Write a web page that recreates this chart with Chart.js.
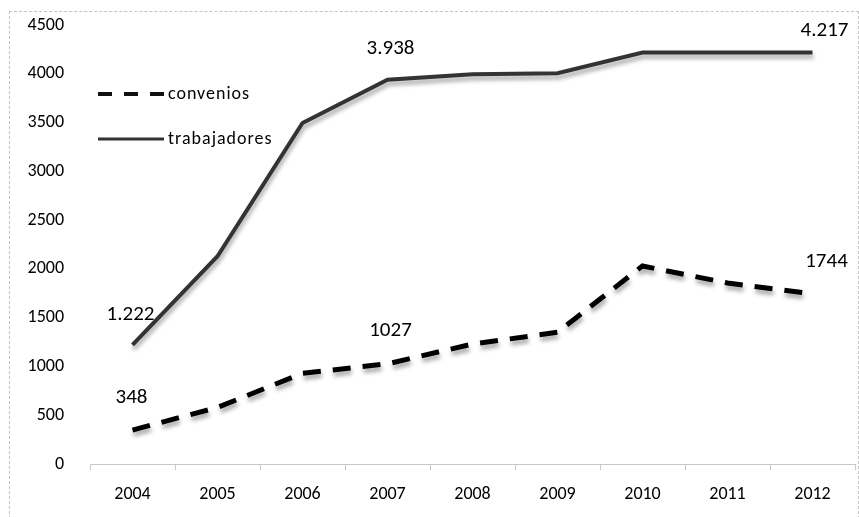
<!DOCTYPE html>
<html>
<head>
<meta charset="utf-8">
<script src="https://cdn.jsdelivr.net/npm/chart.js@4"></script>
<style>
  html, body { margin: 0; padding: 0; background: #fff; }
  #wrap { position: relative; width: 859px; height: 517px; }
  #frame { position: absolute; left: 9px; top: 11px; right: 0px; bottom: -2px; border: 1px dashed #c4c4c4; }
  canvas { position: absolute; left: 0; top: 0; }
</style>
</head>
<body>
<div id="wrap">
  <div id="frame"></div>
  <canvas id="chart" width="859" height="517"></canvas>
</div>
<script>
const years = ['2004', '2005', '2006', '2007', '2008', '2009', '2010', '2011', '2012'];
const convenios = [348, 580, 930, 1027, 1230, 1350, 2030, 1855, 1744];
const trabajadores = [1222, 2130, 3495, 3938, 3995, 4005, 4217, 4217, 4217];

// etiquetas de datos que se ven en el grafico (indice, texto)
const conveniosLabels = [[0, '348'], [3, '1027'], [8, '1744']];
const trabajadoresLabels = [[0, '1.222'], [3, '3.938'], [8, '4.217']];

const fontFamily = 'Carlito, Lato, "Liberation Sans", sans-serif';

const shadowPlugin = {
    id: 'shadow',
    beforeDatasetDraw(chart) {
        const ctx = chart.ctx;
        ctx.save();
        ctx.shadowColor = 'rgba(0,0,0,0.35)';
        ctx.shadowBlur = 4;
        ctx.shadowOffsetX = 1;
        ctx.shadowOffsetY = 4;
    },
    afterDatasetDraw(chart) {
        chart.ctx.restore();
    }
};

const labelsPlugin = {
    id: 'valueLabels',
    afterDatasetsDraw(chart) {
        const ctx = chart.ctx;
        const x = chart.scales.x;
        const y = chart.scales.y;
        ctx.save();
        ctx.fillStyle = '#000';
        ctx.font = '21px ' + fontFamily;
        ctx.textAlign = 'center';
        ctx.textBaseline = 'middle';
        const draw = (list, data, dx, dy) => {
            list.forEach(([i, txt], k) => {
                ctx.fillText(txt, x.getPixelForValue(i) + dx[k], y.getPixelForValue(data[i]) + dy[k]);
            });
        };
        draw(trabajadoresLabels, trabajadores, [-2, 3, 12], [-30, -31, -22]);
        draw(conveniosLabels, convenios, [-1, 3, 14], [-32, -33, -32]);

        // leyenda dentro del area
        const items = [
            { text: 'convenios', dash: [14, 12], width: 4, color: '#111', y: 94 },
            { text: 'trabajadores', dash: [], width: 3, color: '#333', y: 139 },
        ];
        ctx.font = '18px ' + fontFamily;
        ctx.letterSpacing = '1px';
        ctx.textAlign = 'left';
        ctx.textBaseline = 'middle';
        for (let it of items) {
            ctx.beginPath();
            ctx.setLineDash(it.dash);
            ctx.lineWidth = it.width;
            ctx.strokeStyle = it.color;
            ctx.moveTo(98, it.y);
            ctx.lineTo(164, it.y);
            ctx.stroke();
            ctx.fillText(it.text, 168, it.y);
        }
        ctx.restore();
    }
};

new Chart(document.getElementById('chart'), {
    type: 'line',
    data: {
        labels: years,
        datasets: [
            {
                label: 'convenios',
                data: convenios,
                borderColor: '#000',
                borderWidth: 5,
                borderDash: [18, 12],
                pointRadius: 0,
                tension: 0,
                fill: false,
            },
            {
                label: 'trabajadores',
                data: trabajadores,
                borderColor: '#333',
                borderWidth: 4,
                pointRadius: 0,
                tension: 0,
                fill: false,
            },
        ],
    },
    options: {
        responsive: false,
        animation: false,
        layout: { padding: { left: 10, right: 4, top: 0, bottom: 0 } },
        plugins: {
            legend: { display: false },
            tooltip: { enabled: false },
        },
        scales: {
            x: {
                offset: true,
                grid: {
                    offset: true,
                    drawOnChartArea: false,
                    drawTicks: true,
                    tickLength: 6,
                    color: '#c8c8c8',
                },
                border: { color: '#c8c8c8' },
                ticks: {
                    padding: 14,
                    color: '#000',
                    font: { family: fontFamily, size: 18 },
                    maxRotation: 0,
                },
                afterFit: (scale) => { scale.height = 53; },
            },
            y: {
                min: 0,
                max: 4500,
                ticks: {
                    stepSize: 500,
                    padding: 26,
                    color: '#000',
                    font: { family: fontFamily, size: 18 },
                    callback: (value) => String(value),
                },
                grid: { display: false, drawTicks: false },
                border: { display: false },
                afterFit: (scale) => {
                    scale.width = 80;
                    scale.paddingTop = 25;
                    scale.paddingBottom = 0;
                },
            },
        },
    },
    plugins: [shadowPlugin, labelsPlugin],
});
</script>
</body>
</html>
